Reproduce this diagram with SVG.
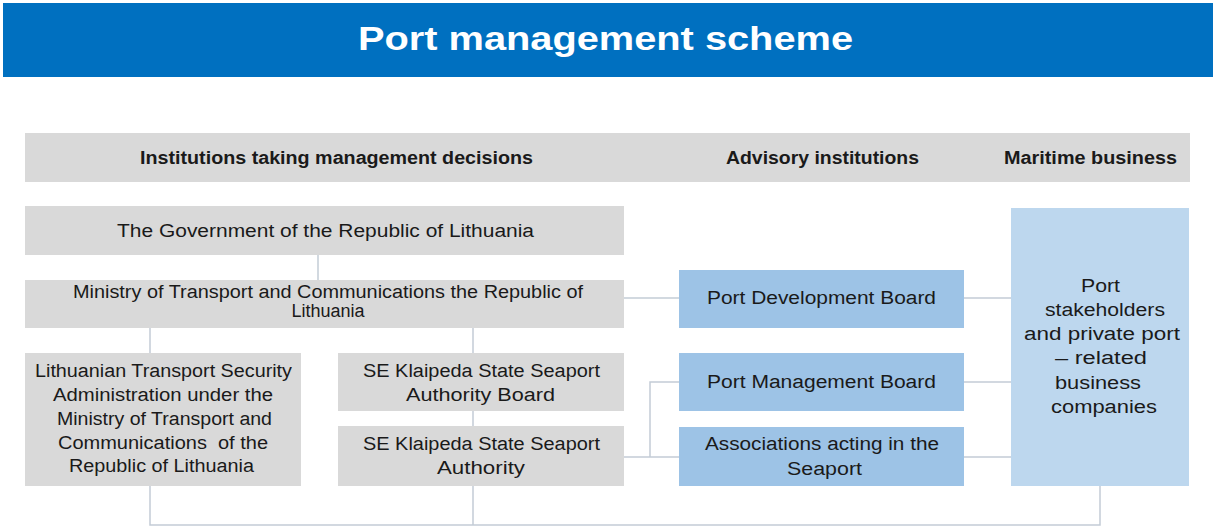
<svg xmlns="http://www.w3.org/2000/svg" width="1213" height="530" viewBox="0 0 1213 530">
<style>
.t{font-family:"Liberation Sans",Arial,sans-serif;font-size:18px;fill:#1a1a1a;text-anchor:middle}
.b{font-weight:bold}
.g{fill:#d9d9d9}
.bl{fill:#9dc3e6}
.lb{fill:#bdd7ee}
.c{fill:none;stroke:#c3ccd6;stroke-width:1.5}
</style>
<rect x="3" y="3" width="1210" height="74" fill="#0070c0"/>
<text x="605.5" y="50" class="t b" style="font-size:34px;fill:#fff" textLength="495" lengthAdjust="spacingAndGlyphs">Port management scheme</text>
<g id="header">
<rect x="25" y="133" width="1165" height="49" class="g"/>
<text x="336.5" y="164" class="t b" textLength="393" lengthAdjust="spacingAndGlyphs">Institutions taking management decisions</text>
<text x="822.5" y="164" class="t b" textLength="193" lengthAdjust="spacingAndGlyphs">Advisory institutions</text>
<text x="1090.5" y="164" class="t b" textLength="173" lengthAdjust="spacingAndGlyphs">Maritime business</text>
</g>
<g id="connectors">
<path class="c" d="M318 255V280"/>
<path class="c" d="M150 328V353M473 328V353M473 411V426"/>
<path class="c" d="M150 486V525H1100V486M473 486V525"/>
<path class="c" d="M624 298H679"/>
<path class="c" d="M624 457H679M650 457V382H679"/>
<path class="c" d="M964 298H1011M964 382H1011M964 457H1011"/>
</g>
<g id="gov">
<rect x="25" y="206" width="599" height="49" class="g"/>
<text x="325.5" y="237" class="t" textLength="417" lengthAdjust="spacingAndGlyphs">The Government of the Republic of Lithuania</text>
</g>
<g id="ministry">
<rect x="25" y="280" width="599" height="48" class="g"/>
<text x="328" y="298" class="t" textLength="510" lengthAdjust="spacingAndGlyphs">Ministry of Transport and Communications the Republic of</text>
<text x="328" y="317" class="t">Lithuania</text>
</g>
<g id="ltsa">
<rect x="25" y="353" width="276" height="133" class="g"/>
<text x="163.5" y="377" class="t" textLength="257" lengthAdjust="spacingAndGlyphs">Lithuanian Transport Security</text>
<text x="163" y="401" class="t" textLength="220" lengthAdjust="spacingAndGlyphs">Administration under the</text>
<text x="164.5" y="425" class="t" textLength="215" lengthAdjust="spacingAndGlyphs">Ministry of Transport and</text>
<text x="163" y="449" class="t" textLength="210" lengthAdjust="spacingAndGlyphs" xml:space="preserve">Communications  of the</text>
<text x="161.5" y="472" class="t" textLength="185" lengthAdjust="spacingAndGlyphs">Republic of Lithuania</text>
</g>
<g id="seboard">
<rect x="338" y="353" width="286" height="58" class="g"/>
<text x="481.5" y="377" class="t" textLength="237" lengthAdjust="spacingAndGlyphs">SE Klaipeda State Seaport</text>
<text x="480.5" y="401" class="t" textLength="149" lengthAdjust="spacingAndGlyphs">Authority Board</text>
</g>
<g id="seauthority">
<rect x="338" y="426" width="286" height="60" class="g"/>
<text x="481.5" y="450" class="t" textLength="237" lengthAdjust="spacingAndGlyphs">SE Klaipeda State Seaport</text>
<text x="481" y="474" class="t" textLength="88" lengthAdjust="spacingAndGlyphs">Authority</text>
</g>
<g id="pdb">
<rect x="679" y="270" width="285" height="58" class="bl"/>
<text x="821.5" y="304" class="t" textLength="229" lengthAdjust="spacingAndGlyphs">Port Development Board</text>
</g>
<g id="pmb">
<rect x="679" y="353" width="285" height="58" class="bl"/>
<text x="821.5" y="388" class="t" textLength="229" lengthAdjust="spacingAndGlyphs">Port Management Board</text>
</g>
<g id="assoc">
<rect x="679" y="427" width="285" height="59" class="bl"/>
<text x="822" y="450" class="t" textLength="234" lengthAdjust="spacingAndGlyphs">Associations acting in the</text>
<text x="824.5" y="475" class="t" textLength="75" lengthAdjust="spacingAndGlyphs">Seaport</text>
</g>
<g id="business">
<rect x="1011" y="208" width="178" height="278" class="lb"/>
<text x="1100.5" y="292" class="t" textLength="39" lengthAdjust="spacingAndGlyphs">Port</text>
<text x="1105" y="316" class="t" textLength="120" lengthAdjust="spacingAndGlyphs">stakeholders</text>
<text x="1102" y="340" class="t" textLength="156" lengthAdjust="spacingAndGlyphs">and private port</text>
<text x="1101" y="364" class="t" textLength="92" lengthAdjust="spacingAndGlyphs">– related</text>
<text x="1098" y="389" class="t" textLength="86" lengthAdjust="spacingAndGlyphs">business</text>
<text x="1104" y="413" class="t" textLength="106" lengthAdjust="spacingAndGlyphs">companies</text>
</g>
</svg>
